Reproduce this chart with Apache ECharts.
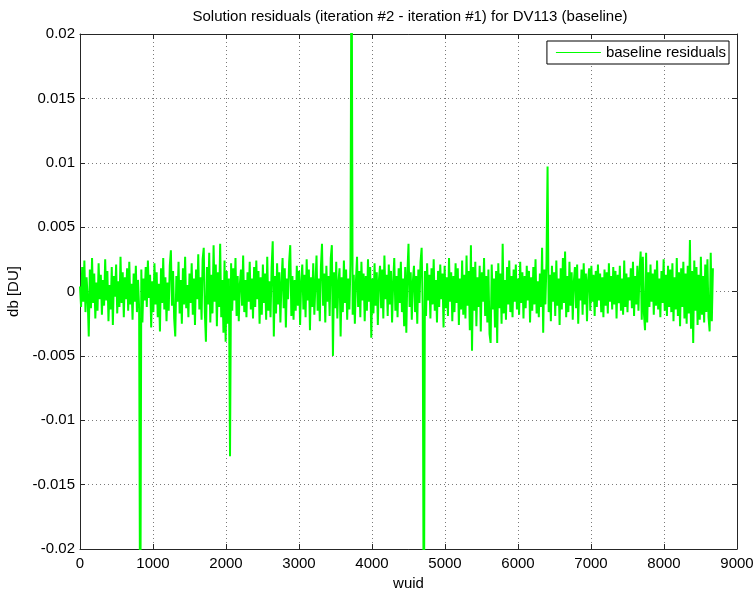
<!DOCTYPE html>
<html>
<head>
<meta charset="utf-8">
<script src="https://cdn.jsdelivr.net/npm/echarts@6/dist/echarts.min.js"></script>
<style>
html,body{margin:0;padding:0;background:#fff;}
#chart{width:755px;height:591px;}
</style>
</head>
<body>
<div id="chart"></div>
<script>
// Chart text
const titleText = 'Solution residuals (iteration #2 - iteration #1) for DV113 (baseline)';
const seriesName = 'baseline residuals';
const xName = 'wuid';
const yName = 'db [DU]';
// x axis: wuid, one sample every wuidStep
const wuidStep = 15;
const xTicks = [0, 1000, 2000, 3000, 4000, 5000, 6000, 7000, 8000, 9000];
const yTicks = [-0.02, -0.015, -0.01, -0.005, 0, 0.005, 0.01, 0.015, 0.02];
// residual values, in units of 1e-3 DU
const residualsE3 = [
0.4,-1.2,1.9,-0.8,2.4,-1.6,1.1,-0.5,-3.5,1.7,-1.3,2.6,-0.9,1.4,-2.1,0.7,-1.5,2.2,-0.6,1.3,
-1.8,0.9,-1.1,2.5,-0.7,1.6,-2.3,0.5,-1.4,1.9,-2.6,1.2,-0.4,2.1,-1.7,0.8,-1.2,2.7,-0.9,1.5,
-2.0,1.1,-0.6,1.8,-1.5,2.3,-1.0,0.6,-2.2,1.4,-0.8,2.0,-1.6,0.9,-1.3,-30,1.7,-2.4,1.0,-0.7,
1.9,-1.2,2.4,-0.5,1.3,-2.8,0.8,-1.6,2.2,-1.0,1.5,-2.0,0.6,-3.1,1.8,-0.9,2.6,-1.4,1.1,-2.3,
0.7,-1.5,2.0,3.2,-1.1,1.6,-2.1,-3.5,1.2,-0.8,2.3,-1.7,0.9,-2.5,1.8,-1.0,2.7,-1.3,0.5,-2.0,
1.4,-0.9,2.2,-1.8,1.0,-2.6,1.7,-0.6,2.9,-1.4,1.1,-2.2,2.5,3.4,-1.6,-3.9,1.9,-1.0,3.0,-2.4,
1.3,-1.7,3.6,-0.8,2.1,-2.7,1.5,-1.2,3.7,-2.0,0.9,-3.2,2.4,-3.9,1.6,-2.5,1.0,-12.8,2.2,-1.5,
1.8,-0.7,2.6,-1.9,1.2,-2.3,0.6,1.7,-1.1,2.8,-1.6,0.9,-2.0,1.5,-0.8,2.3,-1.4,1.0,-2.1,1.9,
-1.2,2.4,-0.6,1.6,-2.5,1.1,-1.8,2.1,-0.9,1.4,-2.2,2.7,-1.5,0.8,-2.0,1.9,3.9,-3.5,1.2,-1.7,
2.2,-1.0,1.5,-2.4,0.7,2.6,-1.3,1.8,-2.8,1.0,-0.6,2.3,3.6,-1.9,1.2,-2.2,0.9,-1.5,2.0,-1.1,
1.6,-2.6,0.8,2.1,-1.4,1.3,-2.0,2.5,-0.7,1.7,-3.0,1.1,-1.2,2.2,-1.8,0.6,2.8,-1.5,1.0,-2.3,
1.9,3.7,-1.1,1.4,-2.4,2.0,-0.8,1.2,-1.9,2.6,3.6,-5.0,1.5,-1.3,2.3,-2.1,0.7,1.8,-3.5,1.1,
-1.6,2.4,-0.9,1.7,-2.2,1.0,-1.4,2.1,30,-1.8,1.3,-2.5,0.8,2.7,-1.2,1.6,-2.0,2.3,-0.7,1.4,
-2.3,1.2,-1.5,2.5,-0.8,1.9,-3.6,1.0,-1.7,2.2,-1.1,1.5,-2.6,0.9,2.0,-1.3,1.7,-2.1,2.8,-0.6,
1.3,-1.9,2.1,-1.0,1.6,-2.4,0.7,2.6,-1.5,1.2,-2.0,1.8,-0.9,2.3,-1.6,1.0,-2.7,1.9,-3.2,1.4,
3.7,-1.2,1.5,-2.2,0.8,2.0,-1.6,1.2,-2.5,1.7,-0.9,2.3,3.4,-1.4,-30,1.6,-1.9,2.2,-0.7,1.3,
-2.1,1.8,-1.0,2.5,-1.5,0.9,-2.4,1.6,-1.2,2.1,-0.6,1.4,-2.8,2.0,-1.3,1.1,-1.9,2.6,-0.8,1.5,
-2.3,1.2,-1.6,2.2,-0.9,1.8,-2.6,1.0,-1.4,2.4,-1.8,1.3,-2.1,2.8,-1.1,1.6,-3.0,3.6,-4.6,1.9,
-1.5,2.3,-2.7,1.1,-1.2,2.0,-3.1,1.5,-0.8,2.6,-1.9,1.2,-2.4,1.7,-3.3,-4.0,2.1,-1.4,1.0,-2.8,
1.6,-4.0,2.2,-1.3,1.4,-2.5,3.7,-1.7,0.9,-2.2,1.9,-1.0,2.4,-1.6,1.2,-2.0,1.7,-0.8,2.1,-1.4,
1.0,-1.8,2.3,-0.9,1.5,-2.1,1.2,-1.3,2.0,-0.7,1.6,-2.4,1.1,-1.5,1.9,-1.0,2.5,-1.7,0.8,-2.0,
1.4,-1.2,3.4,-3.2,1.7,-1.0,2.2,9.7,-1.6,1.3,-2.3,2.0,-0.8,1.5,-1.9,2.4,-1.1,1.0,-2.6,1.8,
-1.4,2.6,-0.9,3.1,-2.0,1.2,-1.6,2.3,-1.1,1.5,-2.2,0.8,1.9,-1.3,2.1,-2.5,1.0,-0.7,1.7,-1.8,
2.2,-1.0,1.4,-2.3,0.9,1.8,-1.5,2.0,-0.8,1.3,-1.9,1.6,-1.2,2.1,-0.7,1.4,-1.6,1.1,-2.0,1.7,
-1.1,1.5,-1.7,2.2,-0.8,1.2,-1.4,1.9,-1.0,1.6,-2.1,1.3,-0.9,2.0,-1.5,1.0,-1.8,2.4,-1.2,1.4,
-1.6,1.1,-0.7,1.8,-1.3,2.3,-1.9,1.2,-1.0,2.0,-1.5,1.6,3.1,-2.2,2.7,-1.7,-3.0,3.0,-2.4,1.5,
-1.2,2.1,-0.8,1.4,-1.8,1.7,-1.1,2.4,-1.4,1.0,-2.0,1.6,-0.9,2.5,-1.5,1.3,-1.9,2.0,-1.2,1.7,
-1.6,2.2,-2.3,1.1,-1.4,2.6,-1.9,1.5,-2.7,1.8,-1.2,2.3,-2.1,1.4,-2.5,2.0,-1.7,4.0,-2.9,1.6,
-4.0,2.4,-1.5,1.9,-2.6,1.3,-2.2,2.7,-1.8,1.2,-2.4,2.1,-1.6,2.5,-2.0,-3.1,3.0,-2.3,1.8
];

const seriesData = residualsE3.map((v, i) => [i * wuidStep, v / 1000]);

const FONT = 'Liberation Sans, Arial, sans-serif';
const AX = '#262626';
const GRID = '#7a7a7a';
const FS = 15;
const fmtY = v => { const r = Math.round(v * 1000) / 1000; return r === 0 ? '0' : String(r); };
const fmtX = v => String(Math.round(v));

const chart = echarts.init(document.getElementById('chart'), null, {renderer: 'canvas'});
const option = {
  animation: false,
  backgroundColor: '#fff',
  textStyle: {fontFamily: FONT},
  title: {
    text: titleText,
    left: 405, top: 4, textAlign: 'center',
    textStyle: {fontFamily: FONT, fontSize: FS, fontWeight: 'normal', color: '#000'}
  },
  legend: {
    data: [{name: seriesName, icon: 'rect'}],
    right: 26, top: 41,
    orient: 'vertical',
    borderColor: '#000', borderWidth: 1, backgroundColor: '#fff',
    padding: [4, 3, 4, 9],
    itemWidth: 45, itemHeight: 1, itemGap: 0,
    itemStyle: {color: '#00ff00'},
    textStyle: {fontFamily: FONT, fontSize: FS, color: '#000'}
  },
  grid: {left: 80, right: 18, top: 34, bottom: 42, containLabel: false, outerBoundsMode: 'none'},
  xAxis: [{
    type: 'value', min: xTicks[0], max: xTicks[xTicks.length - 1], interval: 1000,
    name: xName, nameLocation: 'middle', nameGap: 24,
    nameTextStyle: {fontFamily: FONT, fontSize: FS, color: '#000'},
    axisLine: {show: true, onZero: false, lineStyle: {color: AX, width: 1}},
    axisTick: {show: true, inside: true, length: 5, lineStyle: {color: AX}},
    axisLabel: {fontFamily: FONT, fontSize: FS, color: '#000', margin: 7, formatter: fmtX},
    splitLine: {show: true, lineStyle: {color: GRID, type: [1, 3], width: 1}}
  }, {
    type: 'value', position: 'top', min: xTicks[0], max: xTicks[xTicks.length - 1], interval: 1000,
    axisLine: {show: true, onZero: false, lineStyle: {color: AX, width: 1}},
    axisTick: {show: true, inside: true, length: 5, lineStyle: {color: AX}},
    axisLabel: {show: false}, splitLine: {show: false}
  }],
  yAxis: [{
    type: 'value', min: yTicks[0], max: yTicks[yTicks.length - 1], interval: 0.005,
    name: yName, nameLocation: 'middle', nameGap: 52, nameRotate: 90,
    nameTextStyle: {fontFamily: FONT, fontSize: FS, color: '#000'},
    axisLine: {show: true, onZero: false, lineStyle: {color: AX, width: 1}},
    axisTick: {show: true, inside: true, length: 5, lineStyle: {color: AX}},
    axisLabel: {fontFamily: FONT, fontSize: FS, color: '#000', margin: 5, formatter: fmtY},
    splitLine: {show: true, lineStyle: {color: GRID, type: [1, 3], width: 1}}
  }, {
    type: 'value', position: 'right', min: yTicks[0], max: yTicks[yTicks.length - 1], interval: 0.005,
    axisLine: {show: true, onZero: false, lineStyle: {color: AX, width: 1}},
    axisTick: {show: true, inside: true, length: 5, lineStyle: {color: AX}},
    axisLabel: {show: false}, splitLine: {show: false}
  }],
  series: [{
    name: seriesName,
    type: 'line',
    data: seriesData,
    xAxisIndex: 0, yAxisIndex: 0,
    symbol: 'none', showSymbol: false,
    clip: true,
    lineStyle: {color: '#00ff00', width: 2},
    itemStyle: {color: '#00ff00'}
  }]
};
chart.setOption(option);
</script>
</body>
</html>
